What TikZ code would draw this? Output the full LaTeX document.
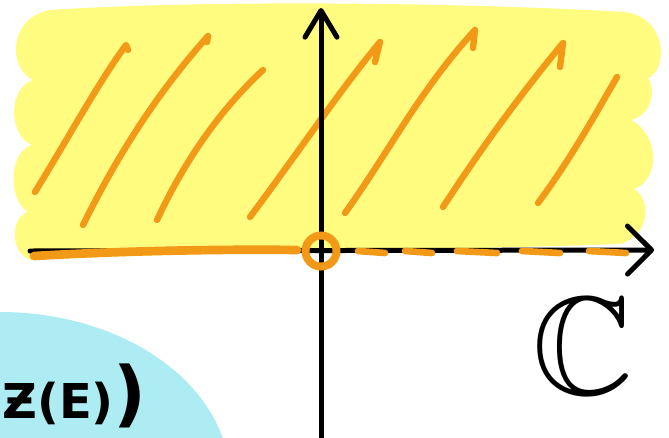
\documentclass[tikz,border=0pt]{standalone}
\usepackage{amssymb}
\usepackage{fontspec}
\usetikzlibrary{arrows.meta}
\newfontfamily\handfont{DejaVu Sans}
\definecolor{regionyellow}{RGB}{255,252,128}
\definecolor{hatchorange}{RGB}{243,153,24}
\definecolor{blobblue}{RGB}{174,236,243}

\begin{document}
\begin{tikzpicture}[x=0.75pt, y=-0.75pt,
    hatch/.style={hatchorange, line width=4.8pt, line cap=round, line join=round},
    axis/.style={line width=3.75pt, line cap=round, -{Straight Barb[length=18pt, width=36pt, round]}}]
  \useasboundingbox (0,0) rectangle (669,437);
  \clip (0,0) rectangle (669,437);
  % Blue blob
  \fill[blobblue] (0,480) ellipse [x radius=230, y radius=168];
  % Upper half plane
  \fill[regionyellow] (30,260) .. controls (10,252) and (10,218) .. (28,212)
    .. controls (8,200) and (8,152) .. (32,145)
    .. controls (8,135) and (8,88) .. (33,80)
    .. controls (8,68) and (8,18) .. (50,10)
    .. controls (200,0) and (450,2) .. (625,12)
    .. controls (668,18) and (668,70) .. (648,78)
    .. controls (656,90) and (652,115) .. (631,120)
    .. controls (660,135) and (660,180) .. (634,189)
    .. controls (652,200) and (650,235) .. (620,244)
    .. controls (450,250) and (200,252) .. cycle;
  % Hatching
  \draw[hatch] (35,192) .. controls (70,135) and (100,80) .. (126,45) -- (128,50);
  \draw[hatch] (83,225) .. controls (120,150) and (160,90) .. (208,36) -- (207,42);
  \draw[hatch] (157,220) .. controls (185,160) and (220,110) .. (263,70);
  \draw[hatch] (250,217) .. controls (300,150) and (340,90) .. (380,42) -- (375,62);
  \draw[hatch] (345,213) .. controls (390,150) and (420,90) .. (475,30) -- (473,48);
  \draw[hatch] (443,207) .. controls (480,150) and (520,95) .. (563,43) -- (560,67);
  \draw[hatch] (538,203) .. controls (570,160) and (595,115) .. (617,77);
  % Axes
  \coordinate (O) at (321,251);
  \coordinate (xstart) at (30,251);
  \coordinate (xend) at (654,250);
  \coordinate (ybot) at (321,440);
  \coordinate (ytop) at (321,8);
  \draw[axis] (xstart) -- (xend);
  \draw[axis, -{Straight Barb[length=20pt, width=24pt, round]}] (ybot) -- (ytop);
  % Real line
  \draw[hatchorange, line width=6.5pt, line cap=round] (34,256) .. controls (120,251) and (220,249) .. (297,250);
  \foreach \a/\b in {358/385, 405/432, 457/497, 522/560, 589/626}{
    \draw[hatchorange, line width=5pt, line cap=round] (\a,251) -- (\b,253);
  }
  \draw[hatchorange, line width=6pt] (O) circle [radius=15.5];
  % Labels
  \node[scale=10.5] (C) at (583,346) {$\mathbb{C}$};
  \node[anchor=base west, inner sep=0pt, font=\handfont\bfseries\fontsize{36}{40}\selectfont] (ZE) at (2,418) {Ƶ(E)\fontsize{54}{56}\selectfont)};
\end{tikzpicture}
\end{document}
